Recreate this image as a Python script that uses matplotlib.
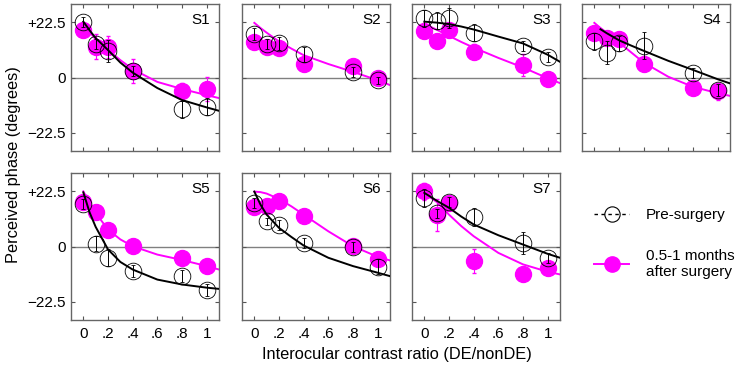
import numpy as np
import matplotlib.pyplot as plt
from matplotlib.lines import Line2D

plt.rcParams['font.family'] = ['Liberation Sans', 'DejaVu Sans']

subjects = ["S1", "S2", "S3", "S4", "S5", "S6", "S7"]
ratio = [0, 0.1, 0.2, 0.4, 0.8, 1.0]

# perceived phase (deg), pre-surgery (open circles)
pre = {
    "S1": [22.8, 13.6, 10.9, 2.7, -12.9, -11.9],
    "S2": [17.7, 13.6, 13.9, 9.5, 2.4, -1.1],
    "S3": [24.2, 23.1, 24.2, 18.3, 12.9, 8.4],
    "S4": [14.7, 10.2, 13.9, 12.9, 2.0, -5.1],
    "S5": [17.4, 1.1, -4.6, -10.1, -12.1, -17.8],
    "S6": [17.8, 10.3, 8.7, 1.5, -0.1, -8.3],
    "S7": [19.8, 13.5, 18.2, 12.1, 1.5, -4.6],
}
pre_err = {
    "S1": [2, 2, 4.5, 2, 3.5, 3.5],
    "S2": [2.5, 2, 2.5, 3, 2, 1.5],
    "S3": [3.5, 3.5, 4, 3.5, 2, 2],
    "S4": [3.5, 4.8, 3, 5.5, 2, 2.5],
    "S5": [2, 3, 3.5, 2.5, 2.5, 2.5],
    "S6": [2, 1.5, 2, 2, 2, 3],
    "S7": [3.7, 2, 2, 3.7, 4.6, 2],
}
# 0.5-1 months after surgery (filled magenta)
post = {
    "S1": [19.3, 12.6, 12.6, 2.7, -5.4, -4.7],
    "S2": [14.3, 12.6, 12.0, 5.5, 4.8, 0.0],
    "S3": [18.8, 15.0, 19.3, 10.6, 5.2, -0.7],
    "S4": [18.3, 16.1, 15.6, 5.7, -4.3, -5.7],
    "S5": [18.2, 14.1, 6.6, 0.1, -4.6, -8.0],
    "S6": [16.0, 16.4, 18.7, 12.6, 0.1, -5.0],
    "S7": [22.6, 13.0, 17.8, -6.0, -11.1, -8.7],
}
post_err = {
    "S1": [2, 5, 4.5, 5, 3.2, 5],
    "S2": [1.5, 1.5, 2.5, 1.5, 1.5, 1.5],
    "S3": [1.5, 1.5, 1.5, 3, 4.5, 1.5],
    "S4": [2, 1.5, 2.5, 1.5, 1.5, 3.5],
    "S5": [1.5, 1.5, 1.5, 1.5, 1.5, 1.5],
    "S6": [1.5, 1.5, 1.5, 1.5, 1.5, 1.5],
    "S7": [3.5, 6.5, 2, 4.8, 1.5, 1.5],
}

# model fit curves (S2 pre fit lies under the post fit)
fit_x = [0, 0.05, 0.1, 0.2, 0.3, 0.4, 0.6, 0.8, 1.0, 1.1]
fit_pre = {
    "S1": [22.8, 19.3, 16.1, 11.2, 6.1, 2.0, -4.3, -9.2, -12.2, -13.6],
    "S3": [22.8, 22.6, 22.4, 21.8, 20.8, 19.6, 16.7, 13.9, 9.3, 6.4],
    "S4": [np.nan, 19.7, 18.1, 15.2, 13.0, 10.9, 6.8, 3.1, -0.7, -2.4],
    "S5": [22.1, 14.0, 8.0, -1.2, -6.3, -9.4, -13.5, -15.5, -16.8, -17.3],
    "S6": [22.4, 17.1, 13.0, 7.6, 3.9, 0.4, -4.6, -8.0, -10.7, -12.1],
    "S7": [21.9, 20.3, 18.7, 15.8, 12.2, 9.0, 4.6, 0.8, -3.0, -4.6],
}
fit_post = {
    "S1": [21.8, 18.6, 15.6, 11.2, 7.1, 3.4, -1.8, -4.7, -7.2, -8.4],
    "S2": [22.3, 20.2, 18.3, 14.7, 11.8, 9.1, 5.5, 2.3, -1.1, -3.1],
    "S3": [22.0, 20.7, 19.5, 17.0, 14.5, 12.2, 8.0, 4.1, -0.3, -2.3],
    "S4": [22.3, 20.2, 18.3, 14.3, 10.2, 6.1, 0.3, -3.8, -6.4, -7.5],
    "S5": [22.5, 17.8, 13.7, 6.9, 2.9, 0.1, -3.3, -5.5, -8.0, -9.4],
    "S6": [22.4, 22.2, 21.6, 19.4, 16.4, 13.0, 6.2, 0.1, -4.2, -5.7],
    "S7": [21.9, 20.0, 18.2, 13.0, 8.3, 4.2, -2.6, -7.3, -10.3, -11.4],
}

xticks = [0, 0.2, 0.4, 0.6, 0.8, 1.0]
xticklabels = ["0", ".2", ".4", ".6", ".8", "1"]
yticks = [-22.5, 0, 22.5]
yticklabels = ["\u221222.5", "0", "+22.5"]

MAG = "#ff00ff"
W, H = 743, 365
fig = plt.figure(figsize=(W / 100, H / 100), dpi=100)

col_left = [71, 242, 412, 582]
row_top = [4, 173]
aw, ah = 148, 147

for i, s in enumerate(subjects):
    r, c = divmod(i, 4)
    ax = fig.add_axes([col_left[c] / W, 1 - (row_top[r] + ah) / H, aw / W, ah / H])
    ax.axhline(0, color="#808080", lw=1, zorder=1)
    ax.plot(fit_x, fit_post[s], color=MAG, lw=1.4, zorder=2)
    ax.errorbar(ratio, post[s], yerr=post_err[s], fmt="o", ms=11.5,
                mfc=MAG, mec=MAG, ecolor=MAG, elinewidth=0.8, capsize=1.2,
                zorder=3)
    ax.errorbar(ratio, pre[s], yerr=pre_err[s], fmt="o", ms=12,
                mfc="none", mec="black", mew=0.6, ecolor="black",
                elinewidth=0.7, capsize=1.2, zorder=4)
    if s in fit_pre:
        ax.plot(fit_x, fit_pre[s], color="black", lw=1.4, zorder=5)

    ax.set_xlim(-0.1, 1.1)
    ax.set_ylim(-30, 30)
    ax.set_xticks(xticks)
    ax.set_yticks(yticks)
    ax.tick_params(direction="in", top=True, right=True, length=3,
                   width=0.8, color="#555555", labelsize=11, pad=4)
    ax.tick_params(axis="x", pad=5)
    if r == 1:
        ax.set_xticklabels(xticklabels)
    else:
        ax.set_xticklabels([])
    if c == 0:
        ax.set_yticklabels(yticklabels)
    else:
        ax.set_yticklabels([])
    for sp in ax.spines.values():
        sp.set_color("#666666")
        sp.set_linewidth(1)
    ax.text(0.94, 0.89, s, transform=ax.transAxes, ha="right", va="center",
            fontsize=11)

handles = [
    Line2D([], [], color="black", lw=1, ls=(0, (2.5, 2.5)), marker="o",
           ms=11, mfc="none", mec="black", mew=0.8),
    Line2D([], [], color=MAG, lw=1.4, marker="o", ms=11, mfc=MAG, mec=MAG),
]
fig.legend(handles, ["Pre-surgery", "0.5-1 months\nafter surgery"],
           loc="upper left", bbox_to_anchor=(594 / W, 1 - 208 / H),
           frameon=False, fontsize=11, handlelength=2.3, handletextpad=1.1,
           labelspacing=1.75, borderpad=0, borderaxespad=0)

fig.text(397 / W, 1 - 355 / H, "Interocular contrast ratio (DE/nonDE)",
         ha="center", va="center", fontsize=11.8)
fig.text(14 / W, 1 - 165 / H, "Perceived phase (degrees)", ha="center",
         va="center", rotation=90, fontsize=11.8)

fig.savefig("out.png", dpi=100)
